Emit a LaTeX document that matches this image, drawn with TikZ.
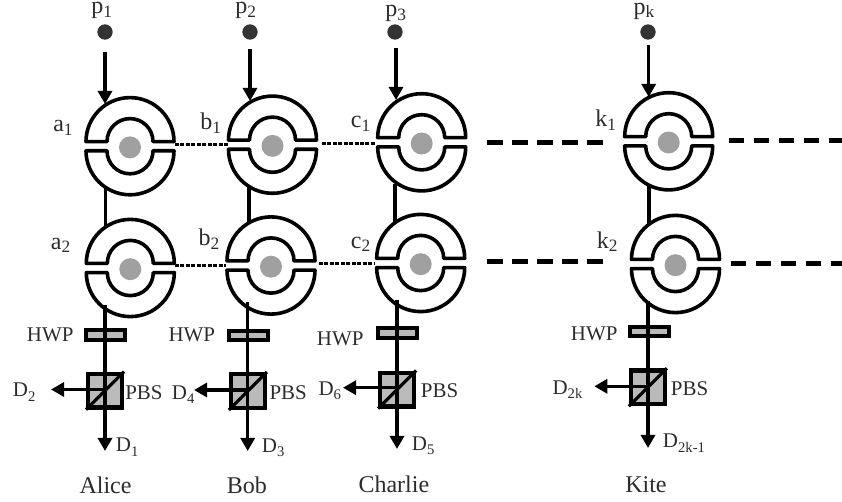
\documentclass[tikz,border=0pt]{standalone}
\usepackage{fontspec}
\setmainfont{Liberation Serif}
\usetikzlibrary{arrows.meta}
\definecolor{ink}{HTML}{2C2C2C}
\definecolor{dotgray}{HTML}{A0A0A0}
\definecolor{opt}{HTML}{BABABA}
\definecolor{pdot}{HTML}{333333}
\newcommand{\labb}[2]{#1\raisebox{-0.3ex}{\fontsize{13}{13}\selectfont #2}}
\newcommand{\labs}[2]{#1\raisebox{-0.45ex}{\fontsize{11}{11}\selectfont #2}}
\tikzset{
  ringline/.style={draw=black,line width=2.7pt,fill=white,line join=round},
  core/.style={circle,fill=dotgray,draw=none,minimum size=16.5pt,inner sep=0pt},
  source/.style={circle,fill=pdot,draw=none,minimum size=11.5pt,inner sep=0pt},
  ringbox/.style={circle,draw=none,minimum size=67pt,inner sep=0pt},
  hwpbox/.style={rectangle,draw=black,line width=3pt,fill=opt,minimum width=29.25pt,minimum height=7pt,inner sep=0pt},
  pbsbox/.style={rectangle,draw=black,line width=3.2pt,fill=opt,minimum width=25.3pt,minimum height=25.3pt,inner sep=0pt},
  beam/.style={draw=black,line width=2.6pt,-{Triangle[length=9.8pt,width=10.5pt]}},
  fiber/.style={draw=black,line width=2.5pt},
  dotlink/.style={draw=black,line width=2.5pt,dash pattern=on 3pt off 1.1pt},
  dashlink/.style={draw=black,line width=3.75pt,dash pattern=on 11.6pt off 7.1pt},
  small/.style={anchor=base west,inner sep=0pt,text=ink,font=\fontsize{15.7}{15.7}\selectfont},
  big/.style={anchor=base west,inner sep=0pt,text=ink,font=\fontsize{18}{18}\selectfont},
}
\newcommand{\ringat}[3]{%
  \path[ringline] ({#2-44},{#3-4.6}) arc[start angle=180,end angle=0,radius=33pt]
    -- ({#2+23},{#3-4.6}) arc[start angle=0,end angle=180,radius=17.25pt] -- cycle;
  \path[ringline] ({#2-44},{#3+4.6}) arc[start angle=180,end angle=360,radius=33pt]
    -- ({#2+23},{#3+4.6}) arc[start angle=360,end angle=180,radius=17.25pt] -- cycle;
  \node[ringbox] (#1) at (#2,#3) {};
  \node[core] (#1core) at (#2,{#3+1.2}) {};
}
\newcommand{\pbsat}[3]{%
  \node[pbsbox] (#1) at (#2,#3) {};
  \draw[draw=black,line width=2.4pt] (#1.south west) -- (#1.north east);
}
\begin{document}
\begin{tikzpicture}[x=0.75pt,y=-0.75pt]
\useasboundingbox (0,0) rectangle (842,502);
% source dots
\node[source] (s1) at (105,32) {};
\node[source] (s2) at (250,32) {};
\node[source] (s3) at (395,32) {};
\node[source] (sk) at (648,32) {};
% connector ends
\coordinate (i1) at (105,52);   \coordinate (t1) at (105,104);
\coordinate (i2) at (250,49);   \coordinate (t2) at (250,101);
\coordinate (i3) at (396,48);   \coordinate (t3) at (396,100);
\coordinate (ik) at (648.7,45); \coordinate (tk) at (648.7,97);
\coordinate (v1a) at (105.6,188); \coordinate (v1b) at (105.6,226);
\coordinate (v2a) at (249,186); \coordinate (v2b) at (249,226);
\coordinate (v3a) at (395,184); \coordinate (v3b) at (395,224);
\coordinate (vka) at (649,183); \coordinate (vkb) at (649,224);
\coordinate (o1) at (105,305);  \coordinate (e1) at (105,451);
\coordinate (o2) at (247.7,302);\coordinate (e2) at (247.7,451);
\coordinate (o3) at (397,300);  \coordinate (e3) at (397,449);
\coordinate (ok) at (648,301);  \coordinate (ek) at (648,448);
\coordinate (h1) at (51,389.5); \coordinate (h2) at (194,390);
\coordinate (h3) at (343,387.7);\coordinate (hk) at (594.3,386.3);
% vertical links
\draw[fiber,line width=2.4pt] (v1a) -- (v1b);
\draw[fiber,line width=2.9pt] (v2a) -- (v2b);
\draw[fiber,line width=2.9pt] (v3a) -- (v3b);
\draw[fiber,line width=2.9pt] (vka) -- (vkb);
% rings
\ringat{a1}{130}{146.2}
\ringat{a2}{130.3}{268}
\ringat{b1}{272.5}{144.7}
\ringat{b2}{271}{265.5}
\ringat{c1}{421.7}{142.3}
\ringat{c2}{420.7}{263}
\ringat{k1}{668.7}{141.3}
\ringat{k2}{675.5}{264}
% input arrows
\draw[beam] (i1) -- (t1);
\draw[beam] (i2) -- (t2);
\draw[beam] (i3) -- (t3);
\draw[beam] (ik) -- (tk);
% optics
\node[hwpbox] (w1) at (105.5,335) {};
\node[hwpbox] (w2) at (248,335.3) {};
\node[hwpbox] (w3) at (397.5,333) {};
\node[hwpbox] (wk) at (649.2,331.3) {};
\pbsat{q1}{105}{390.7}
\pbsat{q2}{247.8}{391}
\pbsat{q3}{397.2}{389.5}
\pbsat{qk}{647.8}{387.3}
% output beams
\draw[fiber] (o1) -- (w1.south -| e1);
\draw[fiber] (o2) -- (w2.south -| e2);
\draw[fiber] (o3) -- (w3.south -| e3);
\draw[fiber] (ok) -- (wk.south -| ek);
\draw[beam] (w1.south -| e1) -- (e1);
\draw[beam] (w2.south -| e2) -- (e2);
\draw[beam] (w3.south -| e3) -- (e3);
\draw[beam] (wk.south -| ek) -- (ek);
\draw[beam] (q1.center |- h1) -- (h1);
\draw[beam] (q2.center |- h2) -- (h2);
\draw[beam] (q3.center |- h3) -- (h3);
\draw[beam] (qk.center |- hk) -- (hk);
% links between rings
\coordinate (ab1l) at (175,144.3);  \coordinate (ab1r) at (228,144.3);
\coordinate (bc1l) at (321.7,143.3);\coordinate (bc1r) at (376,143.3);
\coordinate (ab2l) at (175,265.7);  \coordinate (ab2r) at (226,265.7);
\coordinate (bc2l) at (319,263.3);  \coordinate (bc2r) at (375,263.3);
\draw[dotlink] (ab1l) -- (ab1r);
\draw[dotlink] (bc1l) -- (bc1r);
\draw[dotlink] (ab2l) -- (ab2r);
\draw[dotlink] (bc2l) -- (bc2r);
\coordinate (d1a) at (487.3,142.3); \coordinate (d1b) at (603,142.3);
\coordinate (d2a) at (729,140.3);   \coordinate (d2b) at (842,140.3);
\coordinate (d3a) at (487.3,261.7); \coordinate (d3b) at (603,261.7);
\coordinate (d4a) at (731,264);     \coordinate (d4b) at (842,264);
\draw[dashlink] (d1a) -- (d1b);
\draw[dashlink] (d2a) -- (d2b);
\draw[dashlink] (d3a) -- (d3b);
\draw[dashlink] (d4a) -- (d4b);
% labels
\node[big] (lp1) at (91,14) {\labb{p}{1}};
\node[big] (lp2) at (235,14) {\labb{p}{2}};
\node[big] (lp3) at (385,16.7) {\labb{p}{3}};
\node[big] (lpk) at (633.3,14.3) {\labb{p}{k}};
\node[big] (la1) at (53,131.7) {\labb{a}{1}};
\node[big] (la2) at (50.7,249.3) {\labb{a}{2}};
\node[big] (lb1) at (200,130) {\labb{b}{1}};
\node[big] (lb2) at (198.3,246) {\labb{b}{2}};
\node[big] (lc1) at (350.7,128) {\labb{c}{1}};
\node[big] (lc2) at (350.7,248) {\labb{c}{2}};
\node[big] (lk1) at (595,126.7) {\labb{k}{1}};
\node[big] (lk2) at (596.7,248) {\labb{k}{2}};
\node[small] (lh1) at (26.7,341.7) {HWP};
\node[small] (lh2) at (168.3,341.7) {HWP};
\node[small] (lh3) at (316.7,345) {HWP};
\node[small] (lhk) at (570.7,340.7) {HWP};
\node[small] (lq1) at (125,399) {PBS};
\node[small] (lq2) at (269.3,399) {PBS};
\node[small] (lq3) at (420.7,397.3) {PBS};
\node[small] (lqk) at (670.7,395.7) {PBS};
\node[small] (ld2) at (12.7,396.7) {\labs{D}{2}};
\node[small] (ld4) at (171.7,399.3) {\labs{D}{4}};
\node[small] (ld6) at (318.3,395) {\labs{D}{6}};
\node[small] (ld2k) at (552.3,394.3) {\labs{D}{2k}};
\node[small] (ld1) at (115.7,451.7) {\labs{D}{1}};
\node[small] (ld3) at (261.7,452.3) {\labs{D}{3}};
\node[small] (ld5) at (411.7,450) {\labs{D}{5}};
\node[small] (ld2k1) at (662.7,447.7) {\labs{D}{2k-1}};
\node[big] (alice) at (79.3,493.3) {Alice};
\node[big] (bob) at (226.7,493.3) {Bob};
\node[big] (charlie) at (358.3,492.7) {Charlie};
\node[big] (kite) at (625,492.7) {Kite};
\end{tikzpicture}
\end{document}
